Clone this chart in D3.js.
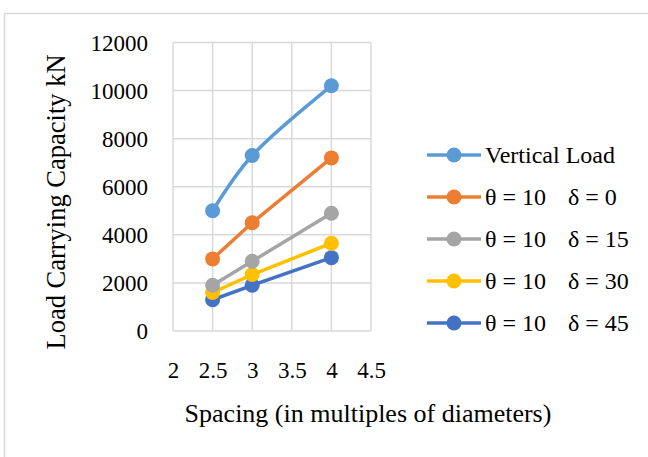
<!DOCTYPE html>
<html>
<head>
<meta charset="utf-8">
<script src="https://cdn.jsdelivr.net/npm/d3@7"></script>
<style>
  html, body { margin: 0; padding: 0; background: #fff; }
  svg { display: block; }
  text { font-family: "Liberation Serif", "Times New Roman", serif; fill: #000; }
</style>
</head>
<body>
<svg id="chart" width="648" height="457"></svg>
<script>
// Spacing values (multiples of pile diameter)
const spacing = [2.5, 3, 4];

// Load carrying capacity (kN) for each loading case
const verticalLoad = [5000, 7300, 10200];
const theta10delta0 = [3000, 4500, 7200];
const theta10delta15 = [1900, 2900, 4900];
const theta10delta30 = [1600, 2350, 3650];
const theta10delta45 = [1300, 1900, 3050];

const seriesNames = ["Vertical Load", "θ = 10", "θ = 10", "θ = 10", "θ = 10"];
const seriesDelta = ["", "δ = 0", "δ = 15", "δ = 30", "δ = 45"];
const seriesColors = ["#5B9BD5", "#ED7D31", "#A5A5A5", "#FFC000", "#4472C4"];

const xTicks = [2, 2.5, 3, 3.5, 4, 4.5];
const yTicks = [0, 2000, 4000, 6000, 8000, 10000, 12000];

const series = [verticalLoad, theta10delta0, theta10delta15, theta10delta30, theta10delta45]
  .map((vals, i) => ({
    name: seriesNames[i],
    delta: seriesDelta[i],
    color: seriesColors[i],
    smooth: i === 0,
    points: vals.map((v, j) => ({ x: spacing[j], y: v }))
  }));

const svg = d3.select("#chart");

// Outer chart frame
svg.append("rect")
  .attr("x", 4.5).attr("y", 13.5)
  .attr("width", 660).attr("height", 460)
  .attr("fill", "#fff").attr("stroke", "#d9d9d9").attr("stroke-width", 1.5);

const plot = { left: 173, right: 371, top: 42.5, bottom: 331 };

const x = d3.scaleLinear().domain([2, 4.5]).range([plot.left, plot.right]);
const y = d3.scaleLinear().domain([0, 12000]).range([plot.bottom, plot.top]);

// Gridlines
const grid = svg.append("g");
grid.selectAll("line.h").data(yTicks).join("line")
  .attr("x1", plot.left).attr("x2", plot.right)
  .attr("y1", d => y(d)).attr("y2", d => y(d))
  .attr("stroke", "#d9d9d9").attr("stroke-width", 1.5);
grid.selectAll("line.v").data(xTicks).join("line")
  .attr("y1", plot.top).attr("y2", plot.bottom)
  .attr("x1", d => x(d)).attr("x2", d => x(d))
  .attr("stroke", "#d9d9d9").attr("stroke-width", 1.5);

// Y axis tick labels
const yAxis = d3.axisLeft(y).tickValues(yTicks).tickSize(0).tickPadding(0).tickFormat(d3.format("d"));
svg.append("g")
  .attr("transform", `translate(${plot.left - 25},0)`)
  .call(yAxis)
  .call(g => g.select(".domain").remove())
  .selectAll("text")
  .style("font-family", "'Liberation Serif', serif")
  .style("font-size", "23px")
  .attr("dy", "0.34em");

// X axis tick labels
const xAxis = d3.axisBottom(x).tickValues(xTicks).tickSize(0).tickPadding(0).tickFormat(d3.format("~g"));
svg.append("g")
  .attr("transform", `translate(0,${plot.bottom + 31})`)
  .call(xAxis)
  .call(g => g.select(".domain").remove())
  .selectAll("text")
  .style("font-family", "'Liberation Serif', serif")
  .style("font-size", "23px")
  .attr("dy", "0.71em");

// Axis titles
svg.append("text")
  .attr("x", 368).attr("y", 422)
  .attr("text-anchor", "middle")
  .style("font-size", "26px")
  .text("Spacing (in multiples of diameters)");

svg.append("text")
  .attr("transform", "translate(65,202) rotate(-90)")
  .attr("text-anchor", "middle")
  .style("font-size", "26.5px")
  .text("Load Carrying Capacity kN");

// Series lines and markers
const lineStraight = d3.line().x(d => x(d.x)).y(d => y(d.y));
const lineSmooth = d3.line().x(d => x(d.x)).y(d => y(d.y)).curve(d3.curveCatmullRom.alpha(0.5));

const seriesG = svg.append("g");
series.slice().reverse().forEach(s => {
  const g = seriesG.append("g");
  g.append("path")
    .datum(s.points)
    .attr("d", s.smooth ? lineSmooth : lineStraight)
    .attr("fill", "none")
    .attr("stroke", s.color)
    .attr("stroke-width", 3.5)
    .attr("stroke-linejoin", "round");
  g.selectAll("circle").data(s.points).join("circle")
    .attr("cx", d => x(d.x)).attr("cy", d => y(d.y))
    .attr("r", 7.5)
    .attr("fill", s.color);
});

// Legend
const legend = svg.append("g");
const legendRowY = d3.scaleLinear().domain([0, 4]).range([155, 323]);
series.forEach((s, i) => {
  const ly = legendRowY(i);
  legend.append("line")
    .attr("x1", 427).attr("x2", 481).attr("y1", ly).attr("y2", ly)
    .attr("stroke", s.color).attr("stroke-width", 3.5);
  legend.append("circle")
    .attr("cx", 454).attr("cy", ly).attr("r", 7.5).attr("fill", s.color);
  legend.append("text")
    .attr("x", 485).attr("y", ly).attr("dy", "0.34em")
    .style("font-size", "24px")
    .text(s.name);
  if (s.delta) {
    legend.append("text")
      .attr("x", 568).attr("y", ly).attr("dy", "0.34em")
      .style("font-size", "24px")
      .text(s.delta);
  }
});
</script>
</body>
</html>
